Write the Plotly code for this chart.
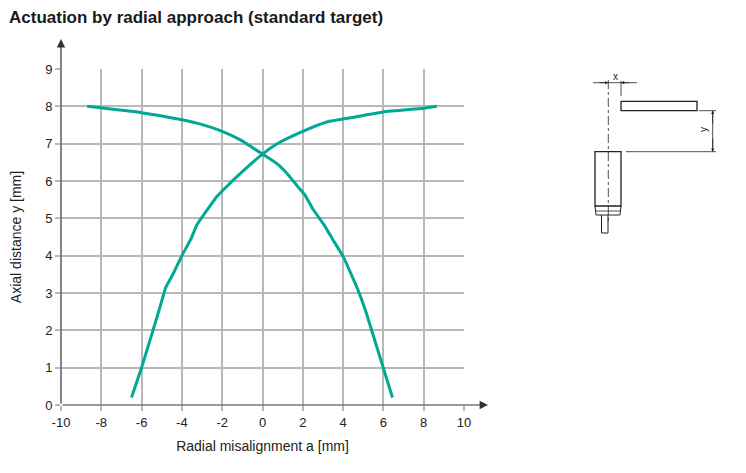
import plotly.graph_objects as go

# curve 1: falls from left (-8.7, 8) to right (6.45, 0.2)
fall_x = [-8.7, -6.0, -4.0, -3.25, -2.0, -1.1, 0.0, 0.75, 1.3, 1.75, 2.1, 2.5, 3.05, 3.5, 4.0, 4.7, 5.1, 5.95, 6.45]
fall_y = [8.0, 7.83, 7.64, 7.55, 7.33, 7.1, 6.72, 6.45, 6.15, 5.85, 5.63, 5.25, 4.83, 4.42, 3.98, 3.13, 2.55, 1.07, 0.2]

# curve 2: rises from left (-6.5, 0.2) to right (8.65, 8)
rise_x = [-6.5, -5.96, -5.1, -4.8, -4.4, -4.0, -3.55, -3.25, -2.27, -1.95, -1.0, 0.0, 0.77, 2.0, 3.2, 4.0, 6.0, 8.0, 8.65]
rise_y = [0.2, 1.07, 2.6, 3.15, 3.55, 4.0, 4.45, 4.83, 5.58, 5.76, 6.25, 6.72, 7.01, 7.33, 7.58, 7.66, 7.85, 7.95, 8.0]

x_ticks = [-10, -8, -6, -4, -2, 0, 2, 4, 6, 8, 10]
y_ticks = [0, 1, 2, 3, 4, 5, 6, 7, 8, 9]

TEAL = "#00a896"
INK = "#333333"
GRID = "#b8b8b8"
OFF = 8                      # page body margin
W, H = 746 - 2 * OFF, 473 - 2 * OFF
L, R, T, B = 61, 464, 69, 405   # plot box in window pixels


def px(x):
    return (x - L) / (R - L)


def py(y):
    return (B - y) / (B - T)


fig = go.Figure()
fig.add_trace(go.Scatter(x=fall_x, y=fall_y, mode="lines",
                         line=dict(color=TEAL, width=3, shape="spline", smoothing=0.4),
                         showlegend=False))
fig.add_trace(go.Scatter(x=rise_x, y=rise_y, mode="lines",
                         line=dict(color=TEAL, width=3, shape="spline", smoothing=0.4),
                         showlegend=False))

# sketch of sensor and target on the right, drawn in pixel positions
shapes = []


def seg(x0, y0, x1, y1, w=1, dash="solid", color="#222222"):
    shapes.append(dict(type="line", xref="paper", yref="paper",
                       x0=px(x0), y0=py(y0), x1=px(x1), y1=py(y1),
                       line=dict(color=color, width=w, dash=dash)))


def box(x0, y0, x1, y1, w=1.3):
    shapes.append(dict(type="rect", xref="paper", yref="paper",
                       x0=px(x0), y0=py(y0), x1=px(x1), y1=py(y1),
                       line=dict(color="#222222", width=w), fillcolor="white"))


box(621, 101.3, 697, 110.7)          # target
box(595, 151.7, 621, 206)            # sensor body
seg(595, 206, 596, 215)              # front cap
seg(621, 206, 620, 215)
seg(596, 215, 620, 215)
seg(596, 211, 620, 211, w=0.8)
seg(601.5, 215, 601.5, 233)          # cable
seg(608, 215, 608, 233)
seg(601.5, 233, 608, 233)
seg(608.3, 80, 608.3, 222, w=0.8, dash="dashdot")   # centre line
seg(621, 81, 621, 96, w=0.8)         # x extension
seg(593, 82.7, 637, 82.7, w=0.8)     # x dimension
seg(699, 110.7, 716, 110.7, w=0.8)   # y extensions
seg(626, 151.7, 716, 151.7, w=0.8)
seg(712.7, 110.7, 712.7, 151.7, w=0.8)

anns = []
# axis arrows
anns.append(dict(xref="paper", yref="paper", x=px(488), y=py(B), ax=L - 488, ay=0,
                 showarrow=True, arrowhead=2, arrowsize=1.4, arrowwidth=1.2,
                 arrowcolor=INK, text=""))
anns.append(dict(xref="paper", yref="paper", x=px(L), y=py(39), ax=0, ay=B - 39,
                 showarrow=True, arrowhead=2, arrowsize=1.4, arrowwidth=1.2,
                 arrowcolor=INK, text=""))
# small dimension arrows
for tip, tail in [(608.3, 598), (621, 631)]:
    anns.append(dict(xref="paper", yref="paper", x=px(tip), y=py(82.7), ax=tail - tip, ay=0,
                     showarrow=True, arrowhead=2, arrowsize=0.8, arrowwidth=0.8,
                     arrowcolor="#222222", text=""))
for tip, tail in [(110.7, 125), (151.7, 137)]:
    anns.append(dict(xref="paper", yref="paper", x=px(712.7), y=py(tip), ax=0, ay=tail - tip,
                     showarrow=True, arrowhead=2, arrowsize=0.8, arrowwidth=0.8,
                     arrowcolor="#222222", text=""))
anns.append(dict(xref="paper", yref="paper", x=px(615), y=py(76), text="x", showarrow=False,
                 xanchor="center", yanchor="middle", font=dict(size=10, color="#222222")))
anns.append(dict(xref="paper", yref="paper", x=px(703), y=py(130), text="y", showarrow=False,
                 xanchor="center", yanchor="middle",
                 textangle=-90, font=dict(size=10, color="#222222")))
anns.append(dict(xref="paper", yref="paper", x=px(7), y=py(17), xanchor="left", yanchor="middle",
                 text="<b>Actuation by radial approach (standard target)</b>", showarrow=False,
                 font=dict(size=17, color="#1a1a1a")))

fig.update_layout(
    width=W, height=H,
    margin=dict(l=L - OFF, r=W - (R - OFF), t=T - OFF, b=H - (B - OFF), pad=0),
    paper_bgcolor="white", plot_bgcolor="white",
    font=dict(family="Liberation Sans, Arial, sans-serif", size=12, color="#222222"),
    shapes=shapes, annotations=anns,
    xaxis=dict(range=[-10, 10], tickvals=x_ticks, ticktext=[str(v) for v in x_ticks],
               showgrid=True, gridcolor=GRID, gridwidth=1.5, zeroline=False, showline=False,
               ticks="outside", ticklen=5, tickcolor=GRID, tickwidth=1.5,
               tickfont=dict(size=13), automargin=False,
               title=dict(text="Radial misalignment a [mm]", standoff=12)),
    yaxis=dict(range=[0, 9], tickvals=y_ticks,
               showgrid=True, gridcolor=GRID, gridwidth=1.5, zeroline=False, showline=False,
               ticks="outside", ticklen=5, tickcolor=GRID, tickwidth=1.5,
               tickfont=dict(size=13), automargin=False,
               title=dict(text="Axial distance y [mm]", standoff=30)),
)

fig.write_html("out.html")
